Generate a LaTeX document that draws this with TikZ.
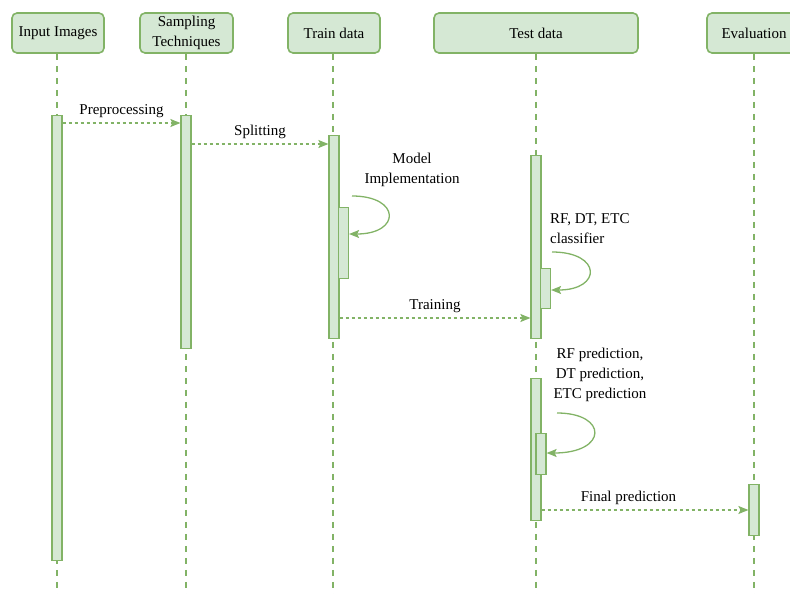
\documentclass[tikz,border=0pt]{standalone}
\usepackage{fontspec}
\setmainfont{Liberation Serif}
\usetikzlibrary{arrows.meta, positioning, calc}
\definecolor{lineg}{HTML}{82B366}
\definecolor{fillg}{HTML}{D5E8D4}

\begin{document}
\begin{tikzpicture}[
  x=1pt, y=-1pt,
  every node/.style={font=\fontsize{15}{20}\selectfont, text=black},
  headbox/.style={draw=lineg, fill=fillg, line width=1.6pt, rounded corners=5pt,
               minimum height=40pt, inner sep=2pt, align=center},
  life/.style={draw=lineg, line width=2pt, dash pattern=on 6pt off 6pt},
  actbar/.style={draw=lineg, fill=fillg, line width=1.2pt, minimum width=10pt,
               inner sep=0pt, anchor=north},
  msg/.style={->, draw=lineg, line width=1.2pt, dash pattern=on 3pt off 3pt,
               >={Stealth[length=10pt, width=8pt, inset=2pt]}},
  selfloop/.style={->, draw=lineg, line width=1.3pt,
               >={Stealth[length=10pt, width=8pt, inset=2pt]}}
]

\useasboundingbox (0,0) rectangle (790,594);

% lifeline heads
\node[headbox, minimum width=92pt] (hIn) at (58,33) {Input Images};
\node[headbox, minimum width=93pt] (hSamp) at (186.5,33) {Sampling\\Techniques};
\node[headbox, minimum width=92pt] (hTrain) at (334,33) {Train data};
\node[headbox, minimum width=204pt] (hTest) at (536,33) {Test data};
\node[headbox, minimum width=94pt] (hEval) at (754,33) {Evaluation};

% lifelines
\draw[life] (hIn.south -| 57,0) -- (57,594);
\draw[life] (hSamp.south -| 186,0) -- (186,594);
\draw[life] (hTrain.south -| 333,0) -- (333,594);
\draw[life] (hTest.south -| 536,0) -- (536,594);
\draw[life] (hEval.south -| 754,0) -- (754,594);

% activation bars
\node[actbar, minimum height=445pt] (bIn) at (57,115) {};
\node[actbar, minimum height=233pt] (bSamp) at (186,115) {};
\node[actbar, minimum height=203pt] (bTrain) at (334,135) {};
\node[actbar, minimum height=71pt] (sTrain) at (343.5,207) {};
\node[actbar, minimum height=183pt] (bTest) at (536,155) {};
\node[actbar, minimum height=40pt] (sTest) at (545.5,268) {};
\node[actbar, minimum height=142pt] (bPred) at (536,378) {};
\node[actbar, minimum height=41pt] (sPred) at (541,433) {};
\node[actbar, minimum height=51pt] (bEval) at (754,484) {};

% messages
\coordinate (m1) at (0,123);
\coordinate (m2) at (0,144);
\coordinate (m3) at (0,318);
\coordinate (m4) at (0,510);
\draw[msg] (bIn.east |- m1) -- node[above=1pt] {Preprocessing} (bSamp.west |- m1);
\draw[msg] (bSamp.east |- m2) -- node[above=1pt] {Splitting} (bTrain.west |- m2);
\draw[msg] (bTrain.east |- m3) -- node[above=1pt] {Training} (bTest.west |- m3);
\draw[msg] (bPred.east |- m4) -- node[above=1pt, pos=0.42] {Final prediction} (bEval.west |- m4);

% self calls
\coordinate (c1) at (352,196);
\coordinate (c2) at (552,252);
\coordinate (c3) at (557,413);
\draw[selfloop] (c1) .. controls (401,196) and (401,234) .. (sTrain.east |- 0,234);
\draw[selfloop] (c2) .. controls (602,252) and (602,290) .. (sTest.east |- 0,290);
\draw[selfloop] (c3) .. controls (608,413) and (608,453) .. (sPred.east |- 0,453);

\node[align=center] (lModel) at (412,170) {Model\\Implementation};
\node[align=left, anchor=west, inner sep=0pt] (lClass) at (550,229) {RF, DT, ETC\\classifier};
\node[align=center] (lPred) at (600,375) {RF prediction,\\DT prediction,\\ETC prediction};

\end{tikzpicture}
\end{document}
